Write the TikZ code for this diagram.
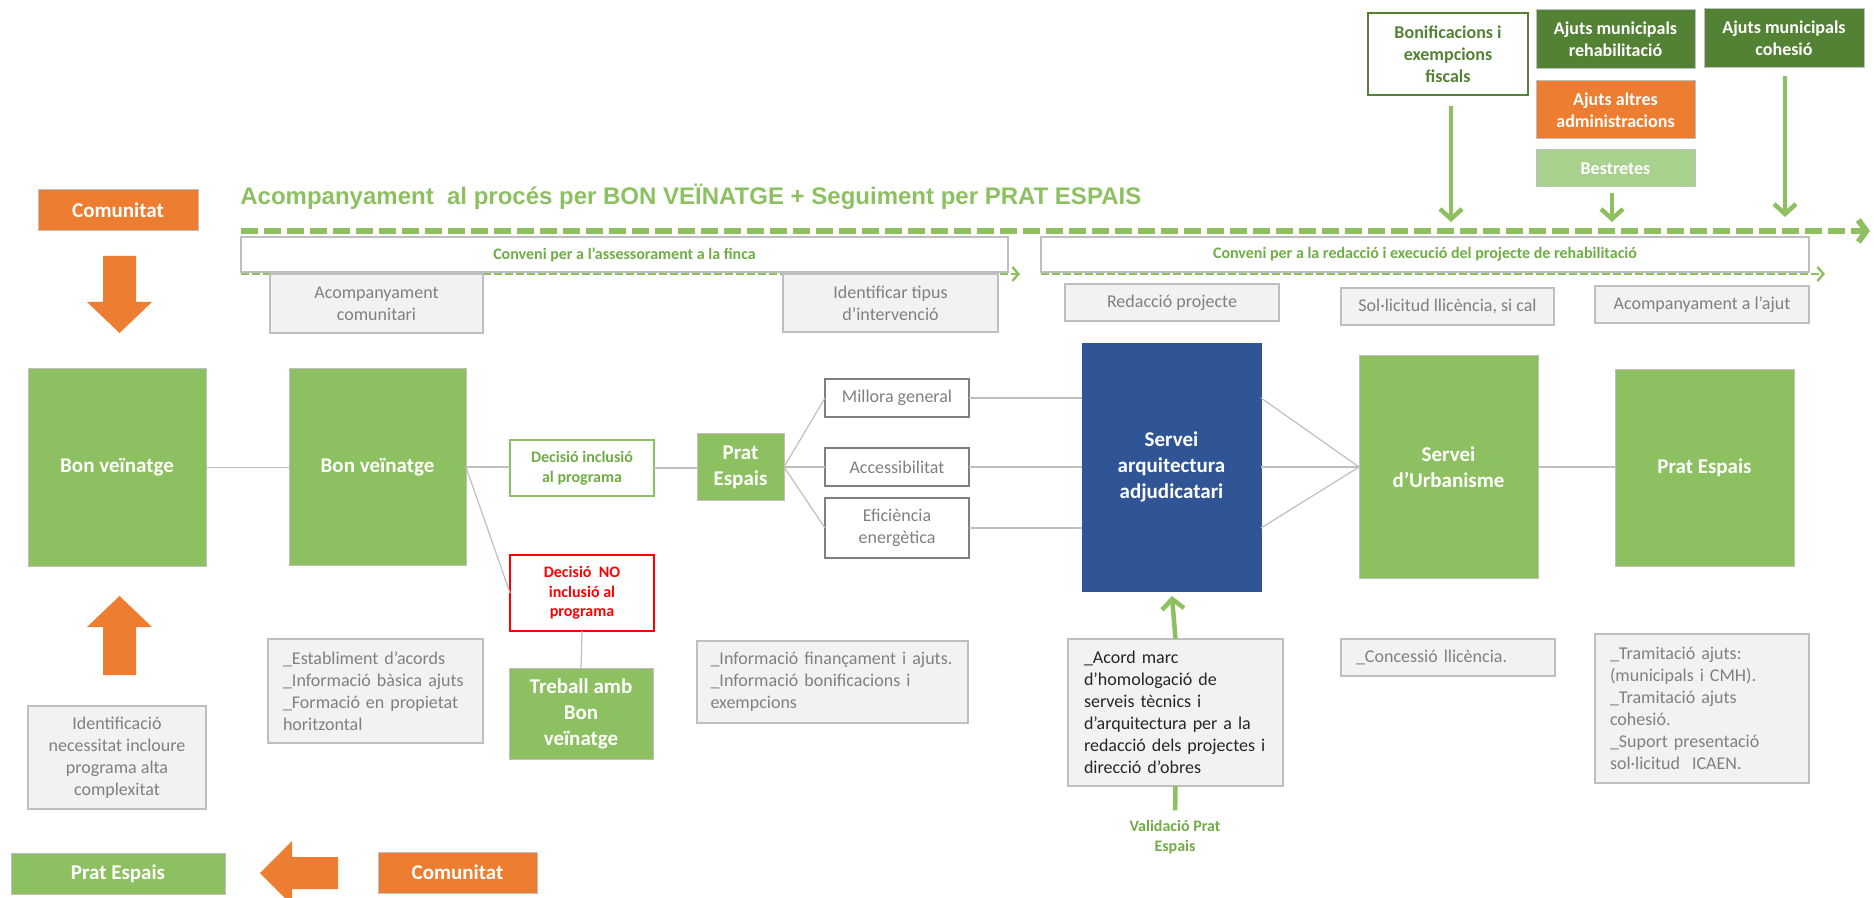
\documentclass[tikz,border=0pt]{standalone}
\usepackage{fontspec}
\setmainfont{Carlito}
\newfontfamily\titlefont{Liberation Sans}
\usetikzlibrary{arrows.meta}
\definecolor{lgreen}{RGB}{141,192,96}
\definecolor{dgreen}{HTML}{548235}
\definecolor{orng}{HTML}{ED7D31}
\definecolor{blu}{HTML}{2F5597}
\definecolor{pgreen}{HTML}{A9D18E}
\definecolor{tgreen}{HTML}{70AD47}
\definecolor{gfill}{HTML}{F2F2F2}
\definecolor{gline}{HTML}{BFBFBF}
\definecolor{gtext}{HTML}{808080}
\definecolor{dgray}{HTML}{7F7F7F}
\tikzset{
 sz/.style 2 args={minimum width=#1*0.5pt,minimum height=#2*0.5pt},
 base/.style={inner sep=0pt,outer sep=0pt,align=center},
 fbig/.style={font=\fontsize{10.5pt}{13pt}\selectfont\bfseries},
 fmid/.style={font=\fontsize{9pt}{11pt}\selectfont},
 fmidb/.style={font=\fontsize{9pt}{11pt}\selectfont\bfseries},
 fsmall/.style={font=\fontsize{8pt}{9.75pt}\selectfont\bfseries},
 greenbox/.style={base,fbig,fill=lgreen,draw=gline,line width=0.5pt,text=white},
 orangebox/.style={base,fbig,fill=orng,draw=gline,line width=0.5pt,text=white},
 bluebox/.style={base,fbig,fill=blu,draw=blu,text=white},
 topbox/.style={base,fmidb,fill=#1,draw=gline,line width=0.5pt,text=white},
 graybox/.style={base,fmid,fill=gfill,draw=gline,line width=0.75pt,text=gtext},
 optbox/.style={base,fmid,fill=white,draw=dgray,line width=1pt,text=gtext},
 decbox/.style={base,fsmall,fill=white,draw=#1,line width=1pt},
 convbox/.style={base,fsmall,fill=white,draw=gline,line width=0.6pt,text=tgreen},
 link/.style={draw=gline,line width=0.6pt},
 garrow/.style={draw=lgreen,line width=2.25pt,-{Straight Barb[length=5pt,width=11pt]}},
 gstem/.style={draw=lgreen,line width=2.25pt},
 thickdash/.style={draw=lgreen,line width=3pt,dash pattern=on 8.5pt off 3pt,-{Straight Barb[length=4pt,width=11pt]}},
 thindash/.style={draw=lgreen,line width=1.2pt,dash pattern=on 4pt off 1.5pt,-{Straight Barb[length=3pt,width=7pt]}},
 blockarrow/.style={fill=orng,draw=none}
}
\begin{document}
\begin{tikzpicture}[x=0.5pt,y=-0.5pt]
\useasboundingbox (0,0) rectangle (1874,898);

% ---- title and agreements
\node[anchor=west,inner sep=0pt,text=lgreen,font=\titlefont\fontsize{12pt}{14pt}\selectfont\bfseries] (title) at (240,197) {Acompanyament \ al procés per BON VEÏNATGE + Seguiment per PRAT ESPAIS};
\coordinate (d0) at (241,231);
\coordinate (d1) at (1870,231);
\draw[thickdash] (d0) -- (d1);

\node[convbox,sz={767}{35}] (conv1) at (624.5,254.5) {Conveni per a l’assessorament a la finca};
\node[convbox,sz={768}{35}] (conv2) at (1425,254.5) {Conveni per a la redacció i execució del projecte de rehabilitació};
\coordinate (c1b) at (1020,274);
\coordinate (c2b) at (1825,274);
\draw[thindash] (conv1.south west) ++(0,2) -- (c1b);
\draw[thindash] (conv2.south west) ++(0,2) -- (c2b);

\node[graybox,sz={213}{59}] (acomp) at (376.5,303.5) {Acompanyament\\comunitari};
\node[graybox,sz={215}{58}] (ident) at (890.5,303) {Identificar tipus\\d’intervenció};
\node[graybox,sz={214}{37}] (redac) at (1172,302.5) {Redacció projecte};
\node[graybox,sz={213}{37}] (soll) at (1447.5,306.5) {Sol·licitud llicència, si cal};
\node[graybox,sz={214}{37}] (acaj) at (1702,304.5) {Acompanyament a l’ajut};

% ---- funding boxes
\node[base,fmidb,fill=white,draw=dgreen,line width=1pt,text=dgreen,sz={160}{82}] (bonif) at (1448,54) {Bonificacions i\\exempcions\\fiscals};
\node[topbox=dgreen,sz={159}{59}] (ajreh) at (1615.5,39.5) {Ajuts municipals\\rehabilitació};
\node[topbox=dgreen,sz={160}{59}] (ajcoh) at (1784,38.5) {Ajuts municipals\\cohesió};
\node[topbox=orng,sz={159}{58}] (ajalt) at (1615.5,110) {Ajuts altres\\administracions};
\node[topbox=pgreen,sz={159}{37}] (bestr) at (1615.5,168.5) {Bestretes};
\coordinate (t1) at (1451,222);
\coordinate (t2) at (1612,222);
\coordinate (t3) at (1785,217);
\draw[garrow,shorten <=5.5pt] (bonif.south -| t1) -- (t1);
\draw[garrow,shorten <=3pt] (bestr.south -| t2) -- (t2);
\draw[garrow,shorten <=4pt] (ajcoh.south -| t3) -- (t3);

% ---- left column
\node[orangebox,sz={160}{41}] (com1) at (118,210.5) {Comunitat};
\node[greenbox,sz={178}{197}] (bv1) at (117,467.5) {Bon veïnatge};
\node[graybox,sz={178}{103}] (identif) at (117,757.5) {Identificació\\necessitat incloure\\programa alta\\complexitat};
\node[greenbox,sz={214}{41}] (pe0) at (118,873.5) {Prat Espais};
\node[orangebox,sz={159}{41}] (com2) at (457.5,872.5) {Comunitat};
\fill[blockarrow] (103,256) -- (136,256) -- (136,302) -- (152,302) -- (119.5,333) -- (87,302) -- (103,302) -- cycle;
\fill[blockarrow] (119.5,596) -- (152,627) -- (136,627) -- (136,675) -- (103,675) -- (103,627) -- (87,627) -- cycle;
\fill[blockarrow] (260,873) -- (292,841) -- (292,857) -- (338,857) -- (338,889) -- (292,889) -- (292,905) -- cycle;

\node[greenbox,sz={177}{196}] (bv2) at (377.5,467) {Bon veïnatge};
\node[graybox,align=left,text width=92.5pt,sz={215}{104}] (establ) at (375.5,691) {\_Establiment d’acords\\\_Informació bàsica ajuts\\\_Formació en propietat\\horitzontal};
\node[decbox=lgreen,text=tgreen,sz={144}{56}] (dinc) at (582,468) {Decisió inclusió\\al programa};
\node[decbox=red,text=red,sz={144}{76}] (dno) at (582,593) {Decisió \ NO\\inclusió al\\programa};
\node[greenbox,sz={144}{91}] (treb) at (581,713.5) {Treball amb\\Bon\\veïnatge};

% ---- middle
\node[greenbox,sz={87}{66}] (pe1) at (740.5,467) {Prat\\Espais};
\node[optbox,sz={144}{38}] (mill) at (897,398) {Millora general};
\node[optbox,sz={144}{38}] (acc) at (897,467) {Accessibilitat};
\node[optbox,sz={144}{60}] (efic) at (897,528) {Eficiència\\energètica};
\node[graybox,align=left,text width=122pt,sz={271}{82}] (info) at (832.5,682) {\_Informació finançament i ajuts.\\\_Informació bonificacions i\\exempcions};
\node[bluebox,sz={179}{248}] (blue) at (1171.5,467) {Servei\\arquitectura\\adjudicatari};
\node[graybox,align=left,text width=91.5pt,text=black!85,sz={215}{147}] (acord) at (1175.5,712.5) {\_Acord marc\\d’homologació de\\serveis tècnics i\\d’arquitectura per a la\\redacció dels projectes i\\direcció d’obres};
\node[base,fsmall,text=tgreen] (valid) at (1175,837) {Validació Prat\\Espais};

% ---- right
\node[greenbox,sz={179}{222}] (urb) at (1448.5,467) {Servei\\d’Urbanisme};
\node[greenbox,sz={179}{196}] (pe2) at (1704.5,468) {Prat Espais};
\node[graybox,align=left,text width=92pt,sz={214}{37}] (conc) at (1448,657.5) {\_Concessió llicència.};
\node[graybox,align=left,text width=92pt,sz={214}{149}] (tram) at (1702,708.5) {\_Tramitació ajuts:\\(municipals i CMH).\\\_Tramitació ajuts\\cohesió.\\\_Suport presentació\\sol·licitud \ ICAEN.};

% ---- connectors
\draw[link] (bv1.east) -- (bv1.east -| bv2.west);
\draw[link] (bv2.east) -- (bv2.east -| dinc.west);
\draw[link] (bv2.east) -- (dno.west);
\draw[link] (dno.south) -- (treb.north);
\draw[link] (dinc.east) -- (dinc.east -| pe1.west);
\draw[link] (pe1.east) -- (mill.west);
\draw[link] (pe1.east) -- (acc.west);
\draw[link] (pe1.east) -- (efic.west);
\draw[link] (mill.east) -- (mill.east -| blue.west);
\draw[link] (acc.east) -- (acc.east -| blue.west);
\draw[link] (efic.east) -- (efic.east -| blue.west);
\draw[link] (blue.east |- mill.east) -- (urb.west);
\draw[link] (blue.east) -- (urb.west);
\draw[link] (blue.east |- efic.east) -- (urb.west);
\draw[link] (urb.east) -- (urb.east -| pe2.west);
\draw[garrow,shorten >=2.5pt] (acord.north) -- (blue.south);
\draw[gstem,shorten >=5pt] (acord.south) -- (valid.north);
\end{tikzpicture}
\end{document}
